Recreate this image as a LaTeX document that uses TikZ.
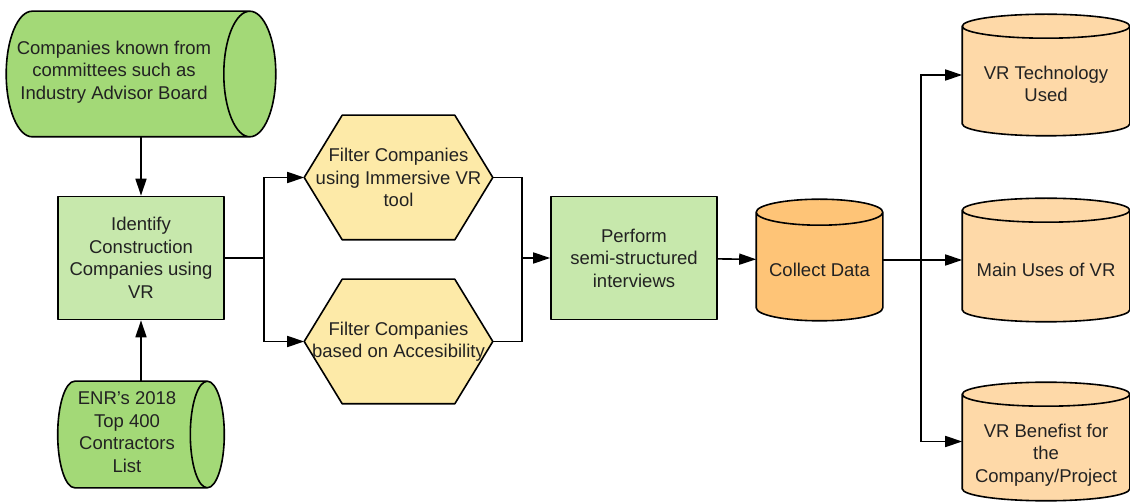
\documentclass[tikz,border=0pt]{standalone}
\usepackage{fontspec}
\setmainfont{Liberation Sans}
\usetikzlibrary{positioning,arrows.meta,calc,backgrounds}

\definecolor{cylgreen}{HTML}{A3D977}
\definecolor{boxgreen}{HTML}{C7E8AC}
\definecolor{hexyellow}{HTML}{FDEAA8}
\definecolor{dataorange}{HTML}{FEC477}
\definecolor{outpeach}{HTML}{FED9A8}
\definecolor{inkgray}{HTML}{222222}

% lying drum, end ellipse on the right: node, x radius, fill
\newcommand{\drawhdrum}[3]{%
  \path[outline,fill=#3] let \p1=(#1.north west), \p2=(#1.south east), \n1={(\y1-\y2)/2} in
    (\x2-#2pt,\y1) -- (\x1+#2pt,\y1)
    arc[start angle=90,end angle=270,x radius=#2pt,y radius=\n1]
    -- (\x2-#2pt,\y2)
    arc[start angle=-90,end angle=90,x radius=#2pt,y radius=\n1]
    arc[start angle=90,end angle=270,x radius=#2pt,y radius=\n1];
}
% standing drum, end ellipse on top: node, y radius, fill
\newcommand{\drawvdrum}[3]{%
  \path[outline,fill=#3] let \p1=(#1.north west), \p2=(#1.south east), \n1={(\x2-\x1)/2} in
    (\x1,\y1-#2pt) -- (\x1,\y2+#2pt)
    arc[start angle=180,end angle=360,x radius=\n1,y radius=#2pt]
    -- (\x2,\y1-#2pt)
    arc[start angle=0,end angle=180,x radius=\n1,y radius=#2pt]
    arc[start angle=180,end angle=360,x radius=\n1,y radius=#2pt];
}
% hexagon with pointed left and right ends: node, tip depth, fill
\newcommand{\drawhex}[3]{%
  \path[outline,fill=#3] let \p1=(#1.north west), \p2=(#1.south east) in
    (\x1,{(\y1+\y2)/2}) -- (\x1+#2pt,\y1) -- (\x2-#2pt,\y1) -- (\x2,{(\y1+\y2)/2})
    -- (\x2-#2pt,\y2) -- (\x1+#2pt,\y2) -- cycle;
}

\begin{document}
\begin{tikzpicture}[x=1pt,y=-1pt,>={Triangle[length=17pt,width=11pt]},line width=1.6pt,
  outline/.style={draw=black,line width=1.6pt,line join=round},
  label text/.style={text=inkgray,align=center,font=\fontsize{18.5}{22.5}\selectfont,inner sep=0pt},
  frame/.style={label text,rectangle,inner sep=0pt},
  procbox/.style={label text,outline,rectangle,fill=boxgreen,minimum width=166pt,minimum height=123pt}]
\useasboundingbox (0,0) rectangle (1130,502);

% sources
\node[frame,minimum width=268pt,minimum height=124pt] (board) at (141,74) {};
\node[label text] (boardtext) at (114,72)
  {Companies known from\\committees such as\\Industry Advisor Board};
\node[procbox] (ident) at (141,258) {Identify\\Construction\\Companies using\\VR};
\node[frame,minimum width=165pt,minimum height=105pt] (enr) at (141,434.5) {};
\node[label text] (enrtext) at (127,432) {ENR's 2018\\Top 400\\Contractors\\List};

% filters
\node[frame,minimum width=187pt,minimum height=123pt] (hexA) at (398.5,177.5)
  {Filter Companies\\using Immersive VR\\tool};
\node[frame,minimum width=187pt,minimum height=123pt] (hexB) at (398.5,341.5)
  {Filter Companies\\based on Accesibility};

% interviews and data
\node[procbox] (perf) at (634,258) {Perform\\semi-structured\\interviews};
\node[frame,minimum width=125pt,minimum height=120pt] (collect) at (819.5,260) {};
\node[label text] (collecttext) at (819.5,270) {Collect Data};

% outputs
\node[frame,minimum width=166pt,minimum height=120pt] (tech) at (1046,75) {};
\node[label text] (techtext) at (1046,84) {VR Technology\\Used};
\node[frame,minimum width=166pt,minimum height=122pt] (uses) at (1046,260) {};
\node[label text] (usestext) at (1046,270) {Main Uses of VR};
\node[frame,minimum width=166pt,minimum height=117pt] (bene) at (1046,441.5) {};
\node[label text] (benetext) at (1046,455) {VR Benefist for\\the\\Company/Project};

\begin{scope}[on background layer]
  \drawhdrum{board}{26}{cylgreen}
  \drawhdrum{enr}{17}{cylgreen}
  \drawhex{hexA}{38}{hexyellow}
  \drawhex{hexB}{38}{hexyellow}
  \drawvdrum{collect}{13}{dataorange}
  \drawvdrum{tech}{12}{outpeach}
  \drawvdrum{uses}{12}{outpeach}
  \drawvdrum{bene}{12}{outpeach}
\end{scope}

\coordinate (fork) at (264,258);
\coordinate (join) at (522,258);
\coordinate (split) at (921,260);

\draw[->] (board) -- (ident);
\draw[->] (enr) -- (ident);
\draw (ident) -- (fork);
\draw[->] (fork) |- (hexA);
\draw[->] (fork) |- (hexB);
\draw (hexA) -| (join);
\draw (hexB) -| (join);
\draw[->] (join) -- (perf);
\draw[->] (perf) -- (collect);
\draw (collect) -- (split);
\draw[->] (split) |- (tech);
\draw[->] (split) -- (uses);
\draw[->] (split) |- (bene);
\end{tikzpicture}
\end{document}
